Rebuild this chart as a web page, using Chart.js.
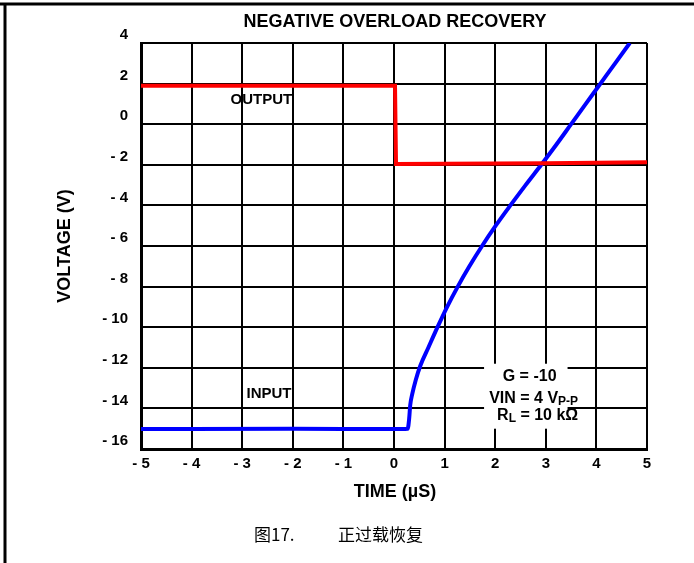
<!DOCTYPE html>
<html>
<head>
<meta charset="utf-8">
<script src="https://cdn.jsdelivr.net/npm/chart.js@4"></script>
<style>
  body { margin: 0; background: #fff; }
  canvas { display: block; }
</style>
</head>
<body>
<canvas id="chart1" width="694" height="563"></canvas>
<script>
// values
const outputTime = [-5, -2, 0.02, 0.04, 1, 2, 3, 4, 5];
const outputVolt = [1.9, 1.9, 1.9, -1.96, -1.95, -1.94, -1.92, -1.9, -1.88];

const inputTime = [-5, -2, 0, 0.27, 0.30, 0.32, 0.36, 0.43, 0.52, 0.68, 0.86, 1.05, 1.26, 1.49, 1.74, 2.01, 2.30, 2.60, 2.91, 3.21, 3.50, 3.79, 4.08, 4.37, 4.66];
const inputVolt = [-15.02, -15.0, -15.02, -15.0, -14.5, -13.85, -13.3, -12.6, -11.9, -11.0, -10.0, -9.0, -8.0, -7.0, -6.0, -5.0, -4.0, -3.0, -2.0, -1.0, 0.0, 1.0, 2.0, 3.0, 4.0];

const xTicks = [-5, 5, 1];   // min, max, step
const yTicks = [-16, 4, 2];

const FONT = "'Liberation Sans Narrow', 'Arial Narrow', 'Liberation Sans', Arial, sans-serif";

const toPoints = (xs, ys) => xs.map((x, i) => ({ x: x, y: ys[i] }));

const tickText = (v) => v < 0 ? '- ' + (-v) : '' + v;

// text that is not part of the chart.js axes
const overlay = {
    id: 'overlay',
    afterDraw(chart) {
        const c = chart.ctx;
        const xs = chart.scales.x, ys = chart.scales.y;
        c.save();

        // page frame
        c.strokeStyle = '#000';
        c.lineWidth = 3;
        c.beginPath();
        c.moveTo(0, 4); c.lineTo(694, 4);
        c.moveTo(5, 3); c.lineTo(5, 563);
        c.stroke();

        c.fillStyle = '#000';
        c.textAlign = 'center';
        c.textBaseline = 'middle';

        c.font = 'bold 18px ' + FONT;
        c.fillText('NEGATIVE OVERLOAD RECOVERY', 395, 22);

        c.font = 'bold 18px ' + FONT;
        c.fillText('TIME (µS)', 395, 492);

        c.save();
        c.translate(65, 246);
        c.rotate(-Math.PI / 2);
        c.fillText('VOLTAGE (V)', 0, 0);
        c.restore();

        c.font = "17px 'Noto Sans CJK SC', sans-serif";
        c.textAlign = 'left';
        c.fillText('图17.', 254, 535);
        c.fillText('正过载恢复', 338, 535);

        // trace labels
        c.textAlign = 'center';
        c.font = 'bold 15px ' + FONT;
        c.fillText('OUTPUT', xs.getPixelForValue(-2.62), ys.getPixelForValue(1.2));
        c.fillText('INPUT', xs.getPixelForValue(-2.47), ys.getPixelForValue(-13.3));

        // conditions box
        const bx0 = xs.getPixelForValue(1.78), bx1 = xs.getPixelForValue(3.43);
        const by0 = ys.getPixelForValue(-11.8), by1 = ys.getPixelForValue(-15.0);
        c.fillStyle = '#fff';
        c.fillRect(bx0, by0, bx1 - bx0, by1 - by0);
        c.fillStyle = '#000';

        const cx = xs.getPixelForValue(2.72);
        const big = 'bold 16px ' + FONT, small = 'bold 12px ' + FONT;
        c.font = big;
        c.fillText('G = -10', cx - 2, ys.getPixelForValue(-12.45));

        // VIN = 4 V with subscript P-P
        const yV = ys.getPixelForValue(-13.5);
        c.font = big;
        const wV = c.measureText('VIN = 4 V').width;
        c.font = small;
        const wPP = c.measureText('P-P').width;
        let x = cx + 2 - (wV + wPP) / 2;
        c.textAlign = 'left';
        c.font = big;
        c.fillText('VIN = 4 V', x, yV);
        c.font = small;
        c.fillText('P-P', x + wV, yV + 3);

        // R with subscript L, then the rest
        const yR = ys.getPixelForValue(-14.35);
        c.font = big;
        const wR = c.measureText('R').width, wRest = c.measureText(' = 10 kΩ').width;
        c.font = small;
        const wL = c.measureText('L').width;
        x = cx + 6 - (wR + wL + wRest) / 2;
        c.font = big;
        c.fillText('R', x, yR);
        c.font = small;
        c.fillText('L', x + wR, yR + 3);
        c.font = big;
        c.fillText(' = 10 kΩ', x + wR + wL, yR);

        c.restore();
    }
};

const ctx = document.getElementById('chart1');
new Chart(ctx, {
    type: 'scatter',
    data: {
        datasets: [{
            label: 'OUTPUT',
            data: toPoints(outputTime, outputVolt),
            showLine: true,
            borderColor: 'rgb(255, 0, 0)',
            borderWidth: 4,
            pointRadius: 0,
            tension: 0
        }, {
            label: 'INPUT',
            data: toPoints(inputTime, inputVolt),
            showLine: true,
            borderColor: 'rgb(0, 0, 255)',
            borderWidth: 4,
            pointRadius: 0,
            cubicInterpolationMode: 'monotone'
        }]
    },
    options: {
        responsive: false,
        animation: false,
        layout: {
            padding: { left: 0, top: 43, right: 47, bottom: 0 }
        },
        plugins: {
            legend: { display: false },
            tooltip: { enabled: false }
        },
        scales: {
            x: {
                type: 'linear',
                min: xTicks[0],
                max: xTicks[1],
                afterFit(scale) { scale.height = 114; },
                ticks: {
                    stepSize: xTicks[2],
                    color: '#000',
                    padding: 6,
                    maxRotation: 0,
                    font: { family: FONT, size: 15, weight: 'bold' },
                    callback: tickText
                },
                grid: { color: '#000', lineWidth: 2, drawTicks: false },
                border: { color: '#000', width: 3 }
            },
            y: {
                type: 'linear',
                min: yTicks[0],
                max: yTicks[1],
                afterFit(scale) { scale.width = 141; },
                ticks: {
                    stepSize: yTicks[2],
                    color: '#000',
                    padding: 13,
                    labelOffset: -8,
                    font: { family: FONT, size: 15, weight: 'bold' },
                    callback: tickText
                },
                grid: { color: '#000', lineWidth: 2, drawTicks: false },
                border: { color: '#000', width: 3 }
            }
        }
    },
    plugins: [overlay]
});
</script>
</body>
</html>
